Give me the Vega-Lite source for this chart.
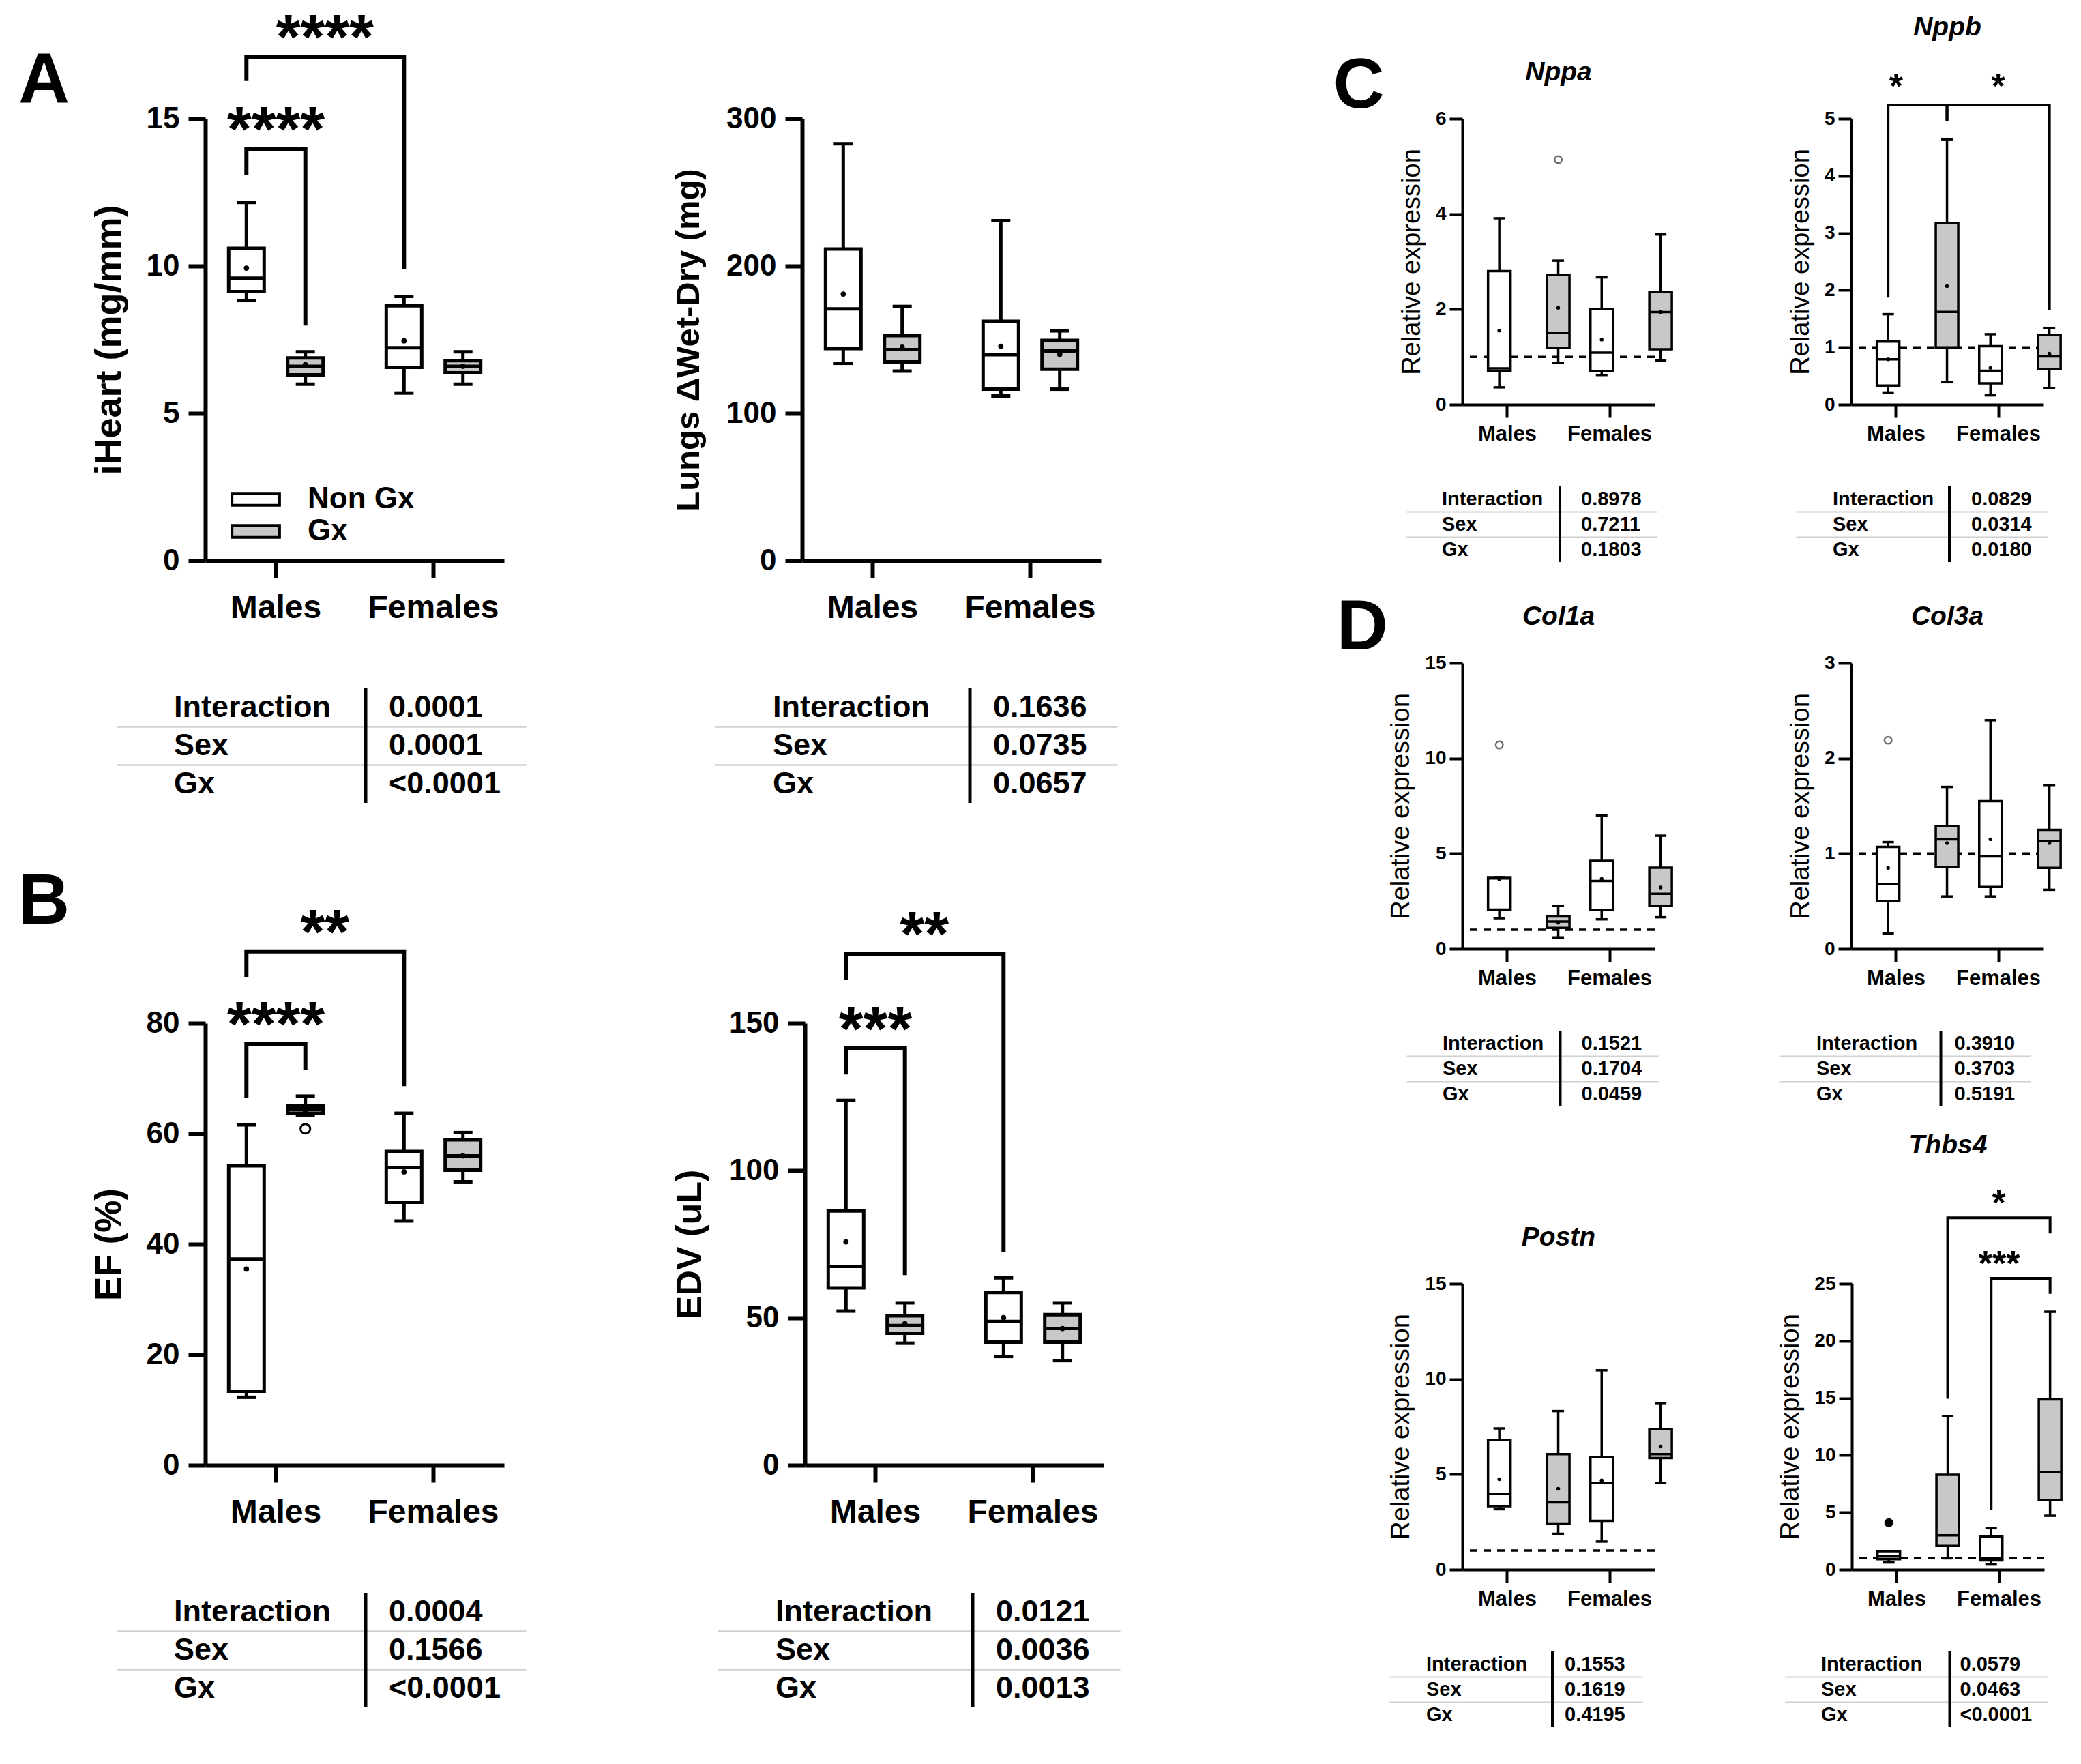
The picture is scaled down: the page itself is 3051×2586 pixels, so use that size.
{
"$schema": "https://vega.github.io/schema/vega-lite/v6.json",
"background": "white",
"autosize": {"type": "pad"},
"padding": {"left": 27, "top": 12, "right": 10, "bottom": 10},
"config": {
  "font": "Liberation Sans",
  "view": {"stroke": null},
  "axis": {"domainColor": "black", "tickColor": "black", "labelColor": "black", "titleColor": "black", "grid": false, "labelLimit": 0},
  "title": {"color": "black"}
},
"datasets": {
"boxes": [
{"panel":"iHeart","sex":"Males","group":"Non Gx","min":8.83,"q1":9.13,"median":9.59,"q3":10.6,"max":12.16,"mean":9.93},
{"panel":"iHeart","sex":"Males","group":"Gx","min":5.99,"q1":6.31,"median":6.6,"q3":6.88,"max":7.09,"mean":6.65},
{"panel":"iHeart","sex":"Females","group":"Non Gx","min":5.69,"q1":6.56,"median":7.23,"q3":8.65,"max":8.97,"mean":7.46},
{"panel":"iHeart","sex":"Females","group":"Gx","min":5.99,"q1":6.38,"median":6.6,"q3":6.79,"max":7.09,"mean":6.6},
{"panel":"Lungs","sex":"Males","group":"Non Gx","min":134,"q1":144,"median":171,"q3":211.6,"max":283,"mean":181},
{"panel":"Lungs","sex":"Males","group":"Gx","min":128.7,"q1":134.9,"median":143.3,"q3":152.8,"max":172.6,"mean":145},
{"panel":"Lungs","sex":"Females","group":"Non Gx","min":111.8,"q1":116.4,"median":139.8,"q3":162.5,"max":230.8,"mean":145.6},
{"panel":"Lungs","sex":"Females","group":"Gx","min":116.4,"q1":130,"median":142.4,"q3":149.5,"max":156,"mean":140},
{"panel":"EF","sex":"Males","group":"Non Gx","min":12.3,"q1":13.4,"median":37.3,"q3":54.2,"max":61.6,"mean":35.5},
{"panel":"EF","sex":"Males","group":"Gx","min":63.4,"q1":63.7,"median":64.4,"q3":65,"max":66.8,"mean":64.1},
{"panel":"EF","sex":"Females","group":"Non Gx","min":44.2,"q1":47.6,"median":53.9,"q3":56.8,"max":63.7,"mean":53.1},
{"panel":"EF","sex":"Females","group":"Gx","min":51.3,"q1":53.4,"median":56,"q3":58.9,"max":60.2,"mean":56},
{"panel":"EDV","sex":"Males","group":"Non Gx","min":52.3,"q1":60.2,"median":67.5,"q3":86.3,"max":123.8,"mean":75.8},
{"panel":"EDV","sex":"Males","group":"Gx","min":41.4,"q1":44.8,"median":47.4,"q3":50.7,"max":55.1,"mean":48},
{"panel":"EDV","sex":"Females","group":"Non Gx","min":36.9,"q1":41.8,"median":48.8,"q3":58.6,"max":63.6,"mean":50.1},
{"panel":"EDV","sex":"Females","group":"Gx","min":35.5,"q1":41.8,"median":46.4,"q3":51.1,"max":55.1,"mean":46.4},
{"panel":"Nppa","sex":"Males","group":"Non Gx","min":0.36,"q1":0.7,"median":0.76,"q3":2.8,"max":3.91,"mean":1.55},
{"panel":"Nppa","sex":"Males","group":"Gx","min":0.87,"q1":1.19,"median":1.5,"q3":2.72,"max":3.02,"mean":2.03},
{"panel":"Nppa","sex":"Females","group":"Non Gx","min":0.62,"q1":0.7,"median":1.09,"q3":2.01,"max":2.67,"mean":1.36},
{"panel":"Nppa","sex":"Females","group":"Gx","min":0.92,"q1":1.16,"median":1.94,"q3":2.36,"max":3.57,"mean":1.94},
{"panel":"Nppb","sex":"Males","group":"Non Gx","min":0.21,"q1":0.33,"median":0.79,"q3":1.1,"max":1.58,"mean":0.79},
{"panel":"Nppb","sex":"Males","group":"Gx","min":0.39,"q1":1.0,"median":1.62,"q3":3.17,"max":4.64,"mean":2.07},
{"panel":"Nppb","sex":"Females","group":"Non Gx","min":0.16,"q1":0.37,"median":0.59,"q3":1.02,"max":1.23,"mean":0.64},
{"panel":"Nppb","sex":"Females","group":"Gx","min":0.29,"q1":0.62,"median":0.84,"q3":1.22,"max":1.34,"mean":0.89},
{"panel":"Col1a","sex":"Males","group":"Non Gx","min":1.61,"q1":2.06,"median":3.7,"q3":3.76,"max":3.76,"mean":3.65},
{"panel":"Col1a","sex":"Males","group":"Gx","min":0.6,"q1":1.1,"median":1.43,"q3":1.7,"max":2.25,"mean":1.37},
{"panel":"Col1a","sex":"Females","group":"Non Gx","min":1.55,"q1":2.03,"median":3.56,"q3":4.62,"max":7.0,"mean":3.67},
{"panel":"Col1a","sex":"Females","group":"Gx","min":1.66,"q1":2.25,"median":2.89,"q3":4.26,"max":5.94,"mean":3.22},
{"panel":"Col3a","sex":"Males","group":"Non Gx","min":0.16,"q1":0.5,"median":0.68,"q3":1.07,"max":1.12,"mean":0.85},
{"panel":"Col3a","sex":"Males","group":"Gx","min":0.55,"q1":0.86,"median":1.15,"q3":1.29,"max":1.7,"mean":1.11},
{"panel":"Col3a","sex":"Females","group":"Non Gx","min":0.55,"q1":0.65,"median":0.97,"q3":1.55,"max":2.4,"mean":1.15},
{"panel":"Col3a","sex":"Females","group":"Gx","min":0.62,"q1":0.85,"median":1.13,"q3":1.25,"max":1.72,"mean":1.11},
{"panel":"Postn","sex":"Males","group":"Non Gx","min":3.17,"q1":3.33,"median":3.98,"q3":6.8,"max":7.41,"mean":4.74},
{"panel":"Postn","sex":"Males","group":"Gx","min":1.88,"q1":2.42,"median":3.53,"q3":6.06,"max":8.32,"mean":4.24},
{"panel":"Postn","sex":"Females","group":"Non Gx","min":1.47,"q1":2.56,"median":4.54,"q3":5.9,"max":10.46,"mean":4.68},
{"panel":"Postn","sex":"Females","group":"Gx","min":4.54,"q1":5.85,"median":6.06,"q3":7.37,"max":8.74,"mean":6.46},
{"panel":"Thbs4","sex":"Males","group":"Non Gx","min":0.62,"q1":0.91,"median":1.15,"q3":1.61,"max":1.61,"mean":null},
{"panel":"Thbs4","sex":"Males","group":"Gx","min":0.99,"q1":2.08,"median":3.0,"q3":8.3,"max":13.41,"mean":null},
{"panel":"Thbs4","sex":"Females","group":"Non Gx","min":0.44,"q1":0.8,"median":0.99,"q3":2.89,"max":3.62,"mean":null},
{"panel":"Thbs4","sex":"Females","group":"Gx","min":4.71,"q1":6.1,"median":8.55,"q3":14.88,"max":22.55,"mean":null}
],
"outliers": [
{"panel":"EF","sex":"Males","group":"Gx","value":60.9,"kind":"open"},
{"panel":"Nppa","sex":"Males","group":"Gx","value":5.14,"kind":"open"},
{"panel":"Col1a","sex":"Males","group":"Non Gx","value":10.7,"kind":"open"},
{"panel":"Col3a","sex":"Males","group":"Non Gx","value":2.19,"kind":"open"},
{"panel":"Thbs4","sex":"Males","group":"Non Gx","value":4.1,"kind":"filled"}
],
"brackets": [
{"panel":"iHeart","id":"b1","ord":1,"sex":"Males","group":"Non Gx","y":13.09},
{"panel":"iHeart","id":"b1","ord":2,"sex":"Males","group":"Non Gx","y":13.97},
{"panel":"iHeart","id":"b1","ord":3,"sex":"Males","group":"Gx","y":13.97},
{"panel":"iHeart","id":"b1","ord":4,"sex":"Males","group":"Gx","y":7.98},
{"panel":"iHeart","id":"b2","ord":1,"sex":"Males","group":"Non Gx","y":16.28},
{"panel":"iHeart","id":"b2","ord":2,"sex":"Males","group":"Non Gx","y":17.1},
{"panel":"iHeart","id":"b2","ord":3,"sex":"Females","group":"Non Gx","y":17.1},
{"panel":"iHeart","id":"b2","ord":4,"sex":"Females","group":"Non Gx","y":9.89},
{"panel":"EF","id":"b1","ord":1,"sex":"Males","group":"Non Gx","y":66.5},
{"panel":"EF","id":"b1","ord":2,"sex":"Males","group":"Non Gx","y":76.3},
{"panel":"EF","id":"b1","ord":3,"sex":"Males","group":"Gx","y":76.3},
{"panel":"EF","id":"b1","ord":4,"sex":"Males","group":"Gx","y":71.6},
{"panel":"EF","id":"b2","ord":1,"sex":"Males","group":"Non Gx","y":88.4},
{"panel":"EF","id":"b2","ord":2,"sex":"Males","group":"Non Gx","y":93},
{"panel":"EF","id":"b2","ord":3,"sex":"Females","group":"Non Gx","y":93},
{"panel":"EF","id":"b2","ord":4,"sex":"Females","group":"Non Gx","y":68.6},
{"panel":"EDV","id":"b1","ord":1,"sex":"Males","group":"Non Gx","y":132.6},
{"panel":"EDV","id":"b1","ord":2,"sex":"Males","group":"Non Gx","y":141.5},
{"panel":"EDV","id":"b1","ord":3,"sex":"Males","group":"Gx","y":141.5},
{"panel":"EDV","id":"b1","ord":4,"sex":"Males","group":"Gx","y":64.5},
{"panel":"EDV","id":"b2","ord":1,"sex":"Males","group":"Non Gx","y":164.8},
{"panel":"EDV","id":"b2","ord":2,"sex":"Males","group":"Non Gx","y":173.5},
{"panel":"EDV","id":"b2","ord":3,"sex":"Females","group":"Non Gx","y":173.5},
{"panel":"EDV","id":"b2","ord":4,"sex":"Females","group":"Non Gx","y":72.4},
{"panel":"Nppb","id":"b1","ord":1,"sex":"Males","group":"Non Gx","y":1.87},
{"panel":"Nppb","id":"b1","ord":2,"sex":"Males","group":"Non Gx","y":5.24},
{"panel":"Nppb","id":"b1","ord":3,"sex":"Males","group":"Gx","y":5.24},
{"panel":"Nppb","id":"b1","ord":4,"sex":"Males","group":"Gx","y":4.96},
{"panel":"Nppb","id":"b2","ord":1,"sex":"Males","group":"Gx","y":4.96},
{"panel":"Nppb","id":"b2","ord":2,"sex":"Males","group":"Gx","y":5.24},
{"panel":"Nppb","id":"b2","ord":3,"sex":"Females","group":"Gx","y":5.24},
{"panel":"Nppb","id":"b2","ord":4,"sex":"Females","group":"Gx","y":1.65},
{"panel":"Thbs4","id":"b1","ord":1,"sex":"Males","group":"Gx","y":14.95},
{"panel":"Thbs4","id":"b1","ord":2,"sex":"Males","group":"Gx","y":30.77},
{"panel":"Thbs4","id":"b1","ord":3,"sex":"Females","group":"Gx","y":30.77},
{"panel":"Thbs4","id":"b1","ord":4,"sex":"Females","group":"Gx","y":29.4},
{"panel":"Thbs4","id":"b2","ord":1,"sex":"Females","group":"Non Gx","y":5.19},
{"panel":"Thbs4","id":"b2","ord":2,"sex":"Females","group":"Non Gx","y":25.47},
{"panel":"Thbs4","id":"b2","ord":3,"sex":"Females","group":"Gx","y":25.47},
{"panel":"Thbs4","id":"b2","ord":4,"sex":"Females","group":"Gx","y":24.12}
],
"stars": [
{"panel":"iHeart","label":"****","sex":"Males","group":null,"y":13.97,"span":"within"},
{"panel":"iHeart","label":"****","sex":"Males","group":"Non Gx","y":17.1,"span":"across"},
{"panel":"EF","label":"****","sex":"Males","group":null,"y":76.3,"span":"within"},
{"panel":"EF","label":"**","sex":"Males","group":"Non Gx","y":93,"span":"across"},
{"panel":"EDV","label":"***","sex":"Males","group":null,"y":141.5,"span":"within"},
{"panel":"EDV","label":"**","sex":"Males","group":"Non Gx","y":173.5,"span":"across"},
{"panel":"Nppb","label":"*","sex":"Males","group":null,"y":5.24,"span":"within"},
{"panel":"Nppb","label":"*","sex":"Males","group":"Gx","y":5.24,"span":"across"},
{"panel":"Thbs4","label":"*","sex":"Males","group":"Gx","y":30.77,"span":"across"},
{"panel":"Thbs4","label":"***","sex":"Females","group":null,"y":25.47,"span":"within"}
],
"tables": [
{"panel":"iHeart","term":"Interaction","p":"0.0001"},{"panel":"iHeart","term":"Sex","p":"0.0001"},{"panel":"iHeart","term":"Gx","p":"<0.0001"},
{"panel":"Lungs","term":"Interaction","p":"0.1636"},{"panel":"Lungs","term":"Sex","p":"0.0735"},{"panel":"Lungs","term":"Gx","p":"0.0657"},
{"panel":"EF","term":"Interaction","p":"0.0004"},{"panel":"EF","term":"Sex","p":"0.1566"},{"panel":"EF","term":"Gx","p":"<0.0001"},
{"panel":"EDV","term":"Interaction","p":"0.0121"},{"panel":"EDV","term":"Sex","p":"0.0036"},{"panel":"EDV","term":"Gx","p":"0.0013"},
{"panel":"Nppa","term":"Interaction","p":"0.8978"},{"panel":"Nppa","term":"Sex","p":"0.7211"},{"panel":"Nppa","term":"Gx","p":"0.1803"},
{"panel":"Nppb","term":"Interaction","p":"0.0829"},{"panel":"Nppb","term":"Sex","p":"0.0314"},{"panel":"Nppb","term":"Gx","p":"0.0180"},
{"panel":"Col1a","term":"Interaction","p":"0.1521"},{"panel":"Col1a","term":"Sex","p":"0.1704"},{"panel":"Col1a","term":"Gx","p":"0.0459"},
{"panel":"Col3a","term":"Interaction","p":"0.3910"},{"panel":"Col3a","term":"Sex","p":"0.3703"},{"panel":"Col3a","term":"Gx","p":"0.5191"},
{"panel":"Postn","term":"Interaction","p":"0.1553"},{"panel":"Postn","term":"Sex","p":"0.1619"},{"panel":"Postn","term":"Gx","p":"0.4195"},
{"panel":"Thbs4","term":"Interaction","p":"0.0579"},{"panel":"Thbs4","term":"Sex","p":"0.0463"},{"panel":"Thbs4","term":"Gx","p":"<0.0001"}
]
},
"spacing": 312,
"hconcat": [
{"spacing": 90, "vconcat": [
 {"spacing": 214, "hconcat": [
  {"title": {"text": "A", "anchor": "start", "frame": "bounds", "orient": "top", "fontSize": 104, "fontWeight": "bold", "baseline": "alphabetic", "offset": 0, "dx": -106, "dy": 242, "color": "black"},
   "bounds": "flush", "spacing": 187, "vconcat": [
   {"width": 438, "height": 648, "layer": [
    {"data": {"name": "boxes"}, "transform": [{"filter": "datum.panel === 'iHeart'"}],
     "encoding": {"x": {"field": "sex", "type": "nominal", "scale": {"type": "band", "domain": ["Males","Females"], "paddingInner": 0.252, "paddingOuter": 0.074}, "axis": {"title": null, "labelAngle": 0, "labelFontSize": 48, "labelFontWeight": "bold", "labelPadding": 20, "tickSize": 25, "tickWidth": 6, "domainWidth": 6, "labelLimit": 0}},
                  "xOffset": {"field": "group", "type": "nominal", "scale": {"type": "band", "domain": ["Non Gx","Gx"], "paddingInner": 0, "paddingOuter": 0}}},
     "layer": [
      {"mark": {"type": "rule", "color": "black", "strokeWidth": 5}, "encoding": {"y": {"field": "min", "type": "quantitative", "scale": {"domain": [0,15], "nice": false, "zero": true}, "axis": {"title": "iHeart (mg/mm)", "values": [0,5,10,15], "format": "d", "labelFontSize": 44, "labelFontWeight": "bold", "labelPadding": 13, "tickSize": 25, "tickWidth": 6, "domainWidth": 6, "titleFontSize": 54, "titleFontWeight": "bold", "titlePadding": 27, "grid": false}}, "y2": {"field": "max"}}},
      {"mark": {"type": "tick", "orient": "horizontal", "color": "black", "thickness": 5, "size": 28, "opacity": 1}, "encoding": {"y": {"field": "min", "type": "quantitative", "scale": {"domain": [0,15], "nice": false, "zero": true}}}},
      {"mark": {"type": "tick", "orient": "horizontal", "color": "black", "thickness": 5, "size": 28, "opacity": 1}, "encoding": {"y": {"field": "max", "type": "quantitative", "scale": {"domain": [0,15], "nice": false, "zero": true}}}},
      {"mark": {"type": "bar", "width": 52, "stroke": "black", "strokeWidth": 5, "opacity": 1}, "encoding": {"y": {"field": "q1", "type": "quantitative", "scale": {"domain": [0,15], "nice": false, "zero": true}}, "y2": {"field": "q3"}, "fill": {"field": "group", "type": "nominal", "scale": {"domain": ["Non Gx","Gx"], "range": ["#ffffff","#c8c8c8"]}, "legend": {"orient": "none", "legendX": 50, "legendY": 534, "title": null, "symbolType": "M-1.6,-0.4H1.6V0.4H-1.6Z", "symbolSize": 1900, "symbolStrokeColor": "black", "symbolStrokeWidth": 4, "symbolOpacity": 1, "labelFontSize": 44, "labelFontWeight": "bold", "labelColor": "black", "labelOffset": 52, "rowPadding": 1, "padding": 0, "direction": "vertical"}}}},
      {"mark": {"type": "tick", "orient": "horizontal", "color": "black", "thickness": 5, "size": 52, "opacity": 1}, "encoding": {"y": {"field": "median", "type": "quantitative", "scale": {"domain": [0,15], "nice": false, "zero": true}}}},
      {"mark": {"type": "point", "shape": "circle", "filled": true, "color": "black", "size": 60, "opacity": 1}, "encoding": {"y": {"field": "mean", "type": "quantitative", "scale": {"domain": [0,15], "nice": false, "zero": true}}}}
     ]},
    {"data": {"name": "brackets"}, "transform": [{"filter": "datum.panel === 'iHeart'"}], "mark": {"type": "line", "color": "black", "strokeWidth": 6, "strokeJoin": "miter"},
     "encoding": {"x": {"field": "sex", "type": "nominal", "scale": {"type": "band", "domain": ["Males","Females"], "paddingInner": 0.252, "paddingOuter": 0.074}}, "xOffset": {"field": "group", "type": "nominal", "scale": {"type": "band", "domain": ["Non Gx","Gx"], "paddingInner": 0, "paddingOuter": 0}}, "y": {"field": "y", "type": "quantitative", "scale": {"domain": [0,15], "nice": false, "zero": true}}, "detail": {"field": "id", "type": "nominal"}, "order": {"field": "ord", "type": "quantitative"}}},
    {"data": {"name": "stars"}, "transform": [{"filter": "datum.panel === 'iHeart' && datum.span === 'within'"}], "mark": {"type": "text", "fontSize": 92, "fontWeight": "bold", "baseline": "alphabetic", "align": "center", "dy": 3, "color": "black"},
     "encoding": {"x": {"field": "sex", "type": "nominal", "scale": {"type": "band", "domain": ["Males","Females"], "paddingInner": 0.252, "paddingOuter": 0.074}}, "y": {"field": "y", "type": "quantitative", "scale": {"domain": [0,15], "nice": false, "zero": true}}, "text": {"field": "label"}}},
    {"data": {"name": "stars"}, "transform": [{"filter": "datum.panel === 'iHeart' && datum.span === 'across'"}], "mark": {"type": "text", "fontSize": 92, "fontWeight": "bold", "baseline": "alphabetic", "align": "center", "dy": 3, "dx": 115, "color": "black"},
     "encoding": {"x": {"field": "sex", "type": "nominal", "scale": {"type": "band", "domain": ["Males","Females"], "paddingInner": 0.252, "paddingOuter": 0.074}}, "xOffset": {"field": "group", "type": "nominal", "scale": {"type": "band", "domain": ["Non Gx","Gx"], "paddingInner": 0, "paddingOuter": 0}}, "y": {"field": "y", "type": "quantitative", "scale": {"domain": [0,15], "nice": false, "zero": true}}, "text": {"field": "label"}}}
   ]},
   {"width": 470, "height": 168, "data": {"name": "tables"}, "transform": [{"filter": "datum.panel === 'iHeart'"}], "layer": [
    {"mark": {"type": "text", "align": "left", "baseline": "middle", "fontSize": 45, "fontWeight": "bold", "dx": -46, "color": "black"},
     "encoding": {"x": {"datum": "term", "type": "nominal", "bandPosition": 0, "scale": {"type": "band", "domain": ["term","p"], "paddingInner": 0, "paddingOuter": 0}, "axis": null},
      "y": {"field": "term", "type": "nominal", "scale": {"type": "band", "domain": ["Interaction","Sex","Gx"], "paddingInner": 0, "paddingOuter": 0}, "axis": {"orient": "left", "domain": false, "labels": false, "ticks": true, "tickSize": 130, "tickWidth": 2.5, "tickColor": "#d0d0d0", "grid": true, "gridColor": "#d0d0d0", "gridWidth": 2.5, "values": ["Sex","Gx"], "bandPosition": 0, "title": null}},
      "text": {"field": "term"}}},
    {"mark": {"type": "text", "align": "left", "baseline": "middle", "fontSize": 45, "fontWeight": "bold", "dx": 34, "color": "black"},
     "encoding": {"x": {"datum": "p", "type": "nominal", "bandPosition": 0, "scale": {"type": "band", "domain": ["term","p"], "paddingInner": 0, "paddingOuter": 0}, "axis": null},
      "y": {"field": "term", "type": "nominal", "scale": {"type": "band", "domain": ["Interaction","Sex","Gx"], "paddingInner": 0, "paddingOuter": 0}, "axis": {"orient": "left", "domain": false, "labels": false, "ticks": true, "tickSize": 130, "tickWidth": 2.5, "tickColor": "#d0d0d0", "grid": true, "gridColor": "#d0d0d0", "gridWidth": 2.5, "values": ["Sex","Gx"], "bandPosition": 0, "title": null}},
      "text": {"field": "p"}}},
    {"data": {"values": [{}]}, "mark": {"type": "rule", "color": "black", "strokeWidth": 5},
     "encoding": {"x": {"datum": "p", "type": "nominal", "bandPosition": 0, "scale": {"type": "band", "domain": ["term","p"], "paddingInner": 0, "paddingOuter": 0}, "axis": null}}}
   ]}
  ]},
  {"bounds": "flush", "spacing": 187, "vconcat": [
   {"width": 438, "height": 648, "layer": [
    {"data": {"name": "boxes"}, "transform": [{"filter": "datum.panel === 'Lungs'"}],
     "encoding": {"x": {"field": "sex", "type": "nominal", "scale": {"type": "band", "domain": ["Males","Females"], "paddingInner": 0.252, "paddingOuter": 0.074}, "axis": {"title": null, "labelAngle": 0, "labelFontSize": 48, "labelFontWeight": "bold", "labelPadding": 20, "tickSize": 25, "tickWidth": 6, "domainWidth": 6, "labelLimit": 0}},
                  "xOffset": {"field": "group", "type": "nominal", "scale": {"type": "band", "domain": ["Non Gx","Gx"], "paddingInner": 0, "paddingOuter": 0}}},
     "layer": [
      {"mark": {"type": "rule", "color": "black", "strokeWidth": 5}, "encoding": {"y": {"field": "min", "type": "quantitative", "scale": {"domain": [0,300], "nice": false, "zero": true}, "axis": {"title": "Lungs ΔWet-Dry (mg)", "values": [0,100,200,300], "format": "d", "labelFontSize": 44, "labelFontWeight": "bold", "labelPadding": 13, "tickSize": 25, "tickWidth": 6, "domainWidth": 6, "titleFontSize": 49, "titleFontWeight": "bold", "titlePadding": 30, "grid": false}}, "y2": {"field": "max"}}},
      {"mark": {"type": "tick", "orient": "horizontal", "color": "black", "thickness": 5, "size": 28, "opacity": 1}, "encoding": {"y": {"field": "min", "type": "quantitative", "scale": {"domain": [0,300], "nice": false, "zero": true}}}},
      {"mark": {"type": "tick", "orient": "horizontal", "color": "black", "thickness": 5, "size": 28, "opacity": 1}, "encoding": {"y": {"field": "max", "type": "quantitative", "scale": {"domain": [0,300], "nice": false, "zero": true}}}},
      {"mark": {"type": "bar", "width": 52, "stroke": "black", "strokeWidth": 5, "opacity": 1}, "encoding": {"y": {"field": "q1", "type": "quantitative", "scale": {"domain": [0,300], "nice": false, "zero": true}}, "y2": {"field": "q3"}, "fill": {"field": "group", "type": "nominal", "scale": {"domain": ["Non Gx","Gx"], "range": ["#ffffff","#a6a6a6"]}, "legend": null}}},
      {"mark": {"type": "tick", "orient": "horizontal", "color": "black", "thickness": 5, "size": 52, "opacity": 1}, "encoding": {"y": {"field": "median", "type": "quantitative", "scale": {"domain": [0,300], "nice": false, "zero": true}}}},
      {"mark": {"type": "point", "shape": "circle", "filled": true, "color": "black", "size": 60, "opacity": 1}, "encoding": {"y": {"field": "mean", "type": "quantitative", "scale": {"domain": [0,300], "nice": false, "zero": true}}}}
     ]}
   ]},
   {"width": 462, "height": 168, "data": {"name": "tables"}, "transform": [{"filter": "datum.panel === 'Lungs'"}], "layer": [
    {"mark": {"type": "text", "align": "left", "baseline": "middle", "fontSize": 45, "fontWeight": "bold", "dx": -79, "color": "black"},
     "encoding": {"x": {"datum": "term", "type": "nominal", "bandPosition": 0, "scale": {"type": "band", "domain": ["term","p"], "paddingInner": 0, "paddingOuter": 0.1, "align": 0.857}, "axis": null},
      "y": {"field": "term", "type": "nominal", "scale": {"type": "band", "domain": ["Interaction","Sex","Gx"], "paddingInner": 0, "paddingOuter": 0}, "axis": {"orient": "left", "domain": false, "labels": false, "ticks": true, "tickSize": 128, "tickWidth": 2.5, "tickColor": "#d0d0d0", "grid": true, "gridColor": "#d0d0d0", "gridWidth": 2.5, "values": ["Sex","Gx"], "bandPosition": 0, "title": null}},
      "text": {"field": "term"}}},
    {"mark": {"type": "text", "align": "left", "baseline": "middle", "fontSize": 45, "fontWeight": "bold", "dx": 34, "color": "black"},
     "encoding": {"x": {"datum": "p", "type": "nominal", "bandPosition": 0, "scale": {"type": "band", "domain": ["term","p"], "paddingInner": 0, "paddingOuter": 0.1, "align": 0.857}, "axis": null},
      "y": {"field": "term", "type": "nominal", "scale": {"type": "band", "domain": ["Interaction","Sex","Gx"], "paddingInner": 0, "paddingOuter": 0}, "axis": {"orient": "left", "domain": false, "labels": false, "ticks": true, "tickSize": 128, "tickWidth": 2.5, "tickColor": "#d0d0d0", "grid": true, "gridColor": "#d0d0d0", "gridWidth": 2.5, "values": ["Sex","Gx"], "bandPosition": 0, "title": null}},
      "text": {"field": "p"}}},
    {"data": {"values": [{}]}, "mark": {"type": "rule", "color": "black", "strokeWidth": 5},
     "encoding": {"x": {"datum": "p", "type": "nominal", "bandPosition": 0, "scale": {"type": "band", "domain": ["term","p"], "paddingInner": 0, "paddingOuter": 0.1, "align": 0.857}, "axis": null}}}
   ]}
  ]}
 ]},
 {"spacing": 214, "hconcat": [
  {"title": {"text": "B", "anchor": "start", "frame": "bounds", "orient": "top", "fontSize": 104, "fontWeight": "bold", "baseline": "alphabetic", "offset": 0, "dx": -107, "dy": 134, "color": "black"},
   "bounds": "flush", "spacing": 187, "vconcat": [
   {"width": 438, "height": 648, "layer": [
    {"data": {"name": "boxes"}, "transform": [{"filter": "datum.panel === 'EF'"}],
     "encoding": {"x": {"field": "sex", "type": "nominal", "scale": {"type": "band", "domain": ["Males","Females"], "paddingInner": 0.252, "paddingOuter": 0.074}, "axis": {"title": null, "labelAngle": 0, "labelFontSize": 48, "labelFontWeight": "bold", "labelPadding": 20, "tickSize": 25, "tickWidth": 6, "domainWidth": 6, "labelLimit": 0}},
                  "xOffset": {"field": "group", "type": "nominal", "scale": {"type": "band", "domain": ["Non Gx","Gx"], "paddingInner": 0, "paddingOuter": 0}}},
     "layer": [
      {"mark": {"type": "rule", "color": "black", "strokeWidth": 5}, "encoding": {"y": {"field": "min", "type": "quantitative", "scale": {"domain": [0,80], "nice": false, "zero": true}, "axis": {"title": "EF (%)", "values": [0,20,40,60,80], "format": "d", "labelFontSize": 44, "labelFontWeight": "bold", "labelPadding": 13, "tickSize": 25, "tickWidth": 6, "domainWidth": 6, "titleFontSize": 53, "titleFontWeight": "bold", "titlePadding": 27, "grid": false}}, "y2": {"field": "max"}}},
      {"mark": {"type": "tick", "orient": "horizontal", "color": "black", "thickness": 5, "size": 28, "opacity": 1}, "encoding": {"y": {"field": "min", "type": "quantitative", "scale": {"domain": [0,80], "nice": false, "zero": true}}}},
      {"mark": {"type": "tick", "orient": "horizontal", "color": "black", "thickness": 5, "size": 28, "opacity": 1}, "encoding": {"y": {"field": "max", "type": "quantitative", "scale": {"domain": [0,80], "nice": false, "zero": true}}}},
      {"mark": {"type": "bar", "width": 52, "stroke": "black", "strokeWidth": 5, "opacity": 1}, "encoding": {"y": {"field": "q1", "type": "quantitative", "scale": {"domain": [0,80], "nice": false, "zero": true}}, "y2": {"field": "q3"}, "fill": {"field": "group", "type": "nominal", "scale": {"domain": ["Non Gx","Gx"], "range": ["#ffffff","#d6d6d6"]}, "legend": null}}},
      {"mark": {"type": "tick", "orient": "horizontal", "color": "black", "thickness": 5, "size": 52, "opacity": 1}, "encoding": {"y": {"field": "median", "type": "quantitative", "scale": {"domain": [0,80], "nice": false, "zero": true}}}},
      {"mark": {"type": "point", "shape": "circle", "filled": true, "color": "black", "size": 60, "opacity": 1}, "encoding": {"y": {"field": "mean", "type": "quantitative", "scale": {"domain": [0,80], "nice": false, "zero": true}}}}
     ]},
    {"data": {"name": "outliers"}, "transform": [{"filter": "datum.panel === 'EF'"}], "mark": {"type": "point", "shape": "circle", "filled": false, "stroke": "black", "strokeWidth": 3, "size": 200, "opacity": 1},
     "encoding": {"x": {"field": "sex", "type": "nominal", "scale": {"type": "band", "domain": ["Males","Females"], "paddingInner": 0.252, "paddingOuter": 0.074}}, "xOffset": {"field": "group", "type": "nominal", "scale": {"type": "band", "domain": ["Non Gx","Gx"], "paddingInner": 0, "paddingOuter": 0}}, "y": {"field": "value", "type": "quantitative", "scale": {"domain": [0,80], "nice": false, "zero": true}}}},
    {"data": {"name": "brackets"}, "transform": [{"filter": "datum.panel === 'EF'"}], "mark": {"type": "line", "color": "black", "strokeWidth": 6, "strokeJoin": "miter"},
     "encoding": {"x": {"field": "sex", "type": "nominal", "scale": {"type": "band", "domain": ["Males","Females"], "paddingInner": 0.252, "paddingOuter": 0.074}}, "xOffset": {"field": "group", "type": "nominal", "scale": {"type": "band", "domain": ["Non Gx","Gx"], "paddingInner": 0, "paddingOuter": 0}}, "y": {"field": "y", "type": "quantitative", "scale": {"domain": [0,80], "nice": false, "zero": true}}, "detail": {"field": "id", "type": "nominal"}, "order": {"field": "ord", "type": "quantitative"}}},
    {"data": {"name": "stars"}, "transform": [{"filter": "datum.panel === 'EF' && datum.span === 'within'"}], "mark": {"type": "text", "fontSize": 92, "fontWeight": "bold", "baseline": "alphabetic", "align": "center", "dy": 3, "color": "black"},
     "encoding": {"x": {"field": "sex", "type": "nominal", "scale": {"type": "band", "domain": ["Males","Females"], "paddingInner": 0.252, "paddingOuter": 0.074}}, "y": {"field": "y", "type": "quantitative", "scale": {"domain": [0,80], "nice": false, "zero": true}}, "text": {"field": "label"}}},
    {"data": {"name": "stars"}, "transform": [{"filter": "datum.panel === 'EF' && datum.span === 'across'"}], "mark": {"type": "text", "fontSize": 92, "fontWeight": "bold", "baseline": "alphabetic", "align": "center", "dy": 3, "dx": 115, "color": "black"},
     "encoding": {"x": {"field": "sex", "type": "nominal", "scale": {"type": "band", "domain": ["Males","Females"], "paddingInner": 0.252, "paddingOuter": 0.074}}, "xOffset": {"field": "group", "type": "nominal", "scale": {"type": "band", "domain": ["Non Gx","Gx"], "paddingInner": 0, "paddingOuter": 0}}, "y": {"field": "y", "type": "quantitative", "scale": {"domain": [0,80], "nice": false, "zero": true}}, "text": {"field": "label"}}}
   ]},
   {"width": 470, "height": 168, "data": {"name": "tables"}, "transform": [{"filter": "datum.panel === 'EF'"}], "layer": [
    {"mark": {"type": "text", "align": "left", "baseline": "middle", "fontSize": 45, "fontWeight": "bold", "dx": -46, "color": "black"},
     "encoding": {"x": {"datum": "term", "type": "nominal", "bandPosition": 0, "scale": {"type": "band", "domain": ["term","p"], "paddingInner": 0, "paddingOuter": 0}, "axis": null},
      "y": {"field": "term", "type": "nominal", "scale": {"type": "band", "domain": ["Interaction","Sex","Gx"], "paddingInner": 0, "paddingOuter": 0}, "axis": {"orient": "left", "domain": false, "labels": false, "ticks": true, "tickSize": 130, "tickWidth": 2.5, "tickColor": "#d0d0d0", "grid": true, "gridColor": "#d0d0d0", "gridWidth": 2.5, "values": ["Sex","Gx"], "bandPosition": 0, "title": null}},
      "text": {"field": "term"}}},
    {"mark": {"type": "text", "align": "left", "baseline": "middle", "fontSize": 45, "fontWeight": "bold", "dx": 34, "color": "black"},
     "encoding": {"x": {"datum": "p", "type": "nominal", "bandPosition": 0, "scale": {"type": "band", "domain": ["term","p"], "paddingInner": 0, "paddingOuter": 0}, "axis": null},
      "y": {"field": "term", "type": "nominal", "scale": {"type": "band", "domain": ["Interaction","Sex","Gx"], "paddingInner": 0, "paddingOuter": 0}, "axis": {"orient": "left", "domain": false, "labels": false, "ticks": true, "tickSize": 130, "tickWidth": 2.5, "tickColor": "#d0d0d0", "grid": true, "gridColor": "#d0d0d0", "gridWidth": 2.5, "values": ["Sex","Gx"], "bandPosition": 0, "title": null}},
      "text": {"field": "p"}}},
    {"data": {"values": [{}]}, "mark": {"type": "rule", "color": "black", "strokeWidth": 5},
     "encoding": {"x": {"datum": "p", "type": "nominal", "bandPosition": 0, "scale": {"type": "band", "domain": ["term","p"], "paddingInner": 0, "paddingOuter": 0}, "axis": null}}}
   ]}
  ]},
  {"bounds": "flush", "spacing": 187, "vconcat": [
   {"width": 438, "height": 648, "layer": [
    {"data": {"name": "boxes"}, "transform": [{"filter": "datum.panel === 'EDV'"}],
     "encoding": {"x": {"field": "sex", "type": "nominal", "scale": {"type": "band", "domain": ["Males","Females"], "paddingInner": 0.252, "paddingOuter": 0.074}, "axis": {"title": null, "labelAngle": 0, "labelFontSize": 48, "labelFontWeight": "bold", "labelPadding": 20, "tickSize": 25, "tickWidth": 6, "domainWidth": 6, "labelLimit": 0}},
                  "xOffset": {"field": "group", "type": "nominal", "scale": {"type": "band", "domain": ["Non Gx","Gx"], "paddingInner": 0, "paddingOuter": 0}}},
     "layer": [
      {"mark": {"type": "rule", "color": "black", "strokeWidth": 5}, "encoding": {"y": {"field": "min", "type": "quantitative", "scale": {"domain": [0,150], "nice": false, "zero": true}, "axis": {"title": "EDV (uL)", "values": [0,50,100,150], "format": "d", "labelFontSize": 44, "labelFontWeight": "bold", "labelPadding": 13, "tickSize": 25, "tickWidth": 6, "domainWidth": 6, "titleFontSize": 52, "titleFontWeight": "bold", "titlePadding": 30, "grid": false}}, "y2": {"field": "max"}}},
      {"mark": {"type": "tick", "orient": "horizontal", "color": "black", "thickness": 5, "size": 28, "opacity": 1}, "encoding": {"y": {"field": "min", "type": "quantitative", "scale": {"domain": [0,150], "nice": false, "zero": true}}}},
      {"mark": {"type": "tick", "orient": "horizontal", "color": "black", "thickness": 5, "size": 28, "opacity": 1}, "encoding": {"y": {"field": "max", "type": "quantitative", "scale": {"domain": [0,150], "nice": false, "zero": true}}}},
      {"mark": {"type": "bar", "width": 52, "stroke": "black", "strokeWidth": 5, "opacity": 1}, "encoding": {"y": {"field": "q1", "type": "quantitative", "scale": {"domain": [0,150], "nice": false, "zero": true}}, "y2": {"field": "q3"}, "fill": {"field": "group", "type": "nominal", "scale": {"domain": ["Non Gx","Gx"], "range": ["#ffffff","#d9d9d9"]}, "legend": null}}},
      {"mark": {"type": "tick", "orient": "horizontal", "color": "black", "thickness": 5, "size": 52, "opacity": 1}, "encoding": {"y": {"field": "median", "type": "quantitative", "scale": {"domain": [0,150], "nice": false, "zero": true}}}},
      {"mark": {"type": "point", "shape": "circle", "filled": true, "color": "black", "size": 60, "opacity": 1}, "encoding": {"y": {"field": "mean", "type": "quantitative", "scale": {"domain": [0,150], "nice": false, "zero": true}}}}
     ]},
    {"data": {"name": "brackets"}, "transform": [{"filter": "datum.panel === 'EDV'"}], "mark": {"type": "line", "color": "black", "strokeWidth": 6, "strokeJoin": "miter"},
     "encoding": {"x": {"field": "sex", "type": "nominal", "scale": {"type": "band", "domain": ["Males","Females"], "paddingInner": 0.252, "paddingOuter": 0.074}}, "xOffset": {"field": "group", "type": "nominal", "scale": {"type": "band", "domain": ["Non Gx","Gx"], "paddingInner": 0, "paddingOuter": 0}}, "y": {"field": "y", "type": "quantitative", "scale": {"domain": [0,150], "nice": false, "zero": true}}, "detail": {"field": "id", "type": "nominal"}, "order": {"field": "ord", "type": "quantitative"}}},
    {"data": {"name": "stars"}, "transform": [{"filter": "datum.panel === 'EDV' && datum.span === 'within'"}], "mark": {"type": "text", "fontSize": 92, "fontWeight": "bold", "baseline": "alphabetic", "align": "center", "dy": 3, "color": "black"},
     "encoding": {"x": {"field": "sex", "type": "nominal", "scale": {"type": "band", "domain": ["Males","Females"], "paddingInner": 0.252, "paddingOuter": 0.074}}, "y": {"field": "y", "type": "quantitative", "scale": {"domain": [0,150], "nice": false, "zero": true}}, "text": {"field": "label"}}},
    {"data": {"name": "stars"}, "transform": [{"filter": "datum.panel === 'EDV' && datum.span === 'across'"}], "mark": {"type": "text", "fontSize": 92, "fontWeight": "bold", "baseline": "alphabetic", "align": "center", "dy": 3, "dx": 115, "color": "black"},
     "encoding": {"x": {"field": "sex", "type": "nominal", "scale": {"type": "band", "domain": ["Males","Females"], "paddingInner": 0.252, "paddingOuter": 0.074}}, "xOffset": {"field": "group", "type": "nominal", "scale": {"type": "band", "domain": ["Non Gx","Gx"], "paddingInner": 0, "paddingOuter": 0}}, "y": {"field": "y", "type": "quantitative", "scale": {"domain": [0,150], "nice": false, "zero": true}}, "text": {"field": "label"}}}
   ]},
   {"width": 462, "height": 168, "data": {"name": "tables"}, "transform": [{"filter": "datum.panel === 'EDV'"}], "layer": [
    {"mark": {"type": "text", "align": "left", "baseline": "middle", "fontSize": 45, "fontWeight": "bold", "dx": -79, "color": "black"},
     "encoding": {"x": {"datum": "term", "type": "nominal", "bandPosition": 0, "scale": {"type": "band", "domain": ["term","p"], "paddingInner": 0, "paddingOuter": 0.1, "align": 0.857}, "axis": null},
      "y": {"field": "term", "type": "nominal", "scale": {"type": "band", "domain": ["Interaction","Sex","Gx"], "paddingInner": 0, "paddingOuter": 0}, "axis": {"orient": "left", "domain": false, "labels": false, "ticks": true, "tickSize": 128, "tickWidth": 2.5, "tickColor": "#d0d0d0", "grid": true, "gridColor": "#d0d0d0", "gridWidth": 2.5, "values": ["Sex","Gx"], "bandPosition": 0, "title": null}},
      "text": {"field": "term"}}},
    {"mark": {"type": "text", "align": "left", "baseline": "middle", "fontSize": 45, "fontWeight": "bold", "dx": 34, "color": "black"},
     "encoding": {"x": {"datum": "p", "type": "nominal", "bandPosition": 0, "scale": {"type": "band", "domain": ["term","p"], "paddingInner": 0, "paddingOuter": 0.1, "align": 0.857}, "axis": null},
      "y": {"field": "term", "type": "nominal", "scale": {"type": "band", "domain": ["Interaction","Sex","Gx"], "paddingInner": 0, "paddingOuter": 0}, "axis": {"orient": "left", "domain": false, "labels": false, "ticks": true, "tickSize": 128, "tickWidth": 2.5, "tickColor": "#d0d0d0", "grid": true, "gridColor": "#d0d0d0", "gridWidth": 2.5, "values": ["Sex","Gx"], "bandPosition": 0, "title": null}},
      "text": {"field": "p"}}},
    {"data": {"values": [{}]}, "mark": {"type": "rule", "color": "black", "strokeWidth": 5},
     "encoding": {"x": {"datum": "p", "type": "nominal", "bandPosition": 0, "scale": {"type": "band", "domain": ["term","p"], "paddingInner": 0, "paddingOuter": 0.1, "align": 0.857}, "axis": null}}}
   ]}
  ]}
 ]}
]},
{"spacing": 43, "vconcat": [
 {"spacing": 168, "hconcat": [
  {"title": {"text": "C", "anchor": "start", "frame": "bounds", "orient": "top", "fontSize": 104, "fontWeight": "bold", "baseline": "alphabetic", "offset": 0, "dx": -97, "dy": 175, "color": "black"},
   "bounds": "flush", "spacing": 120, "vconcat": [
   {"width": 282, "height": 419, "title": {"text": "Nppa", "fontSize": 39, "fontWeight": "bold", "fontStyle": "italic", "anchor": "middle", "frame": "group", "offset": 34, "color": "black"}, "layer": [
    {"data": {"values": [{}]}, "mark": {"type": "rule", "color": "black", "strokeWidth": 3.5, "strokeDash": [11, 9]}, "encoding": {"y": {"datum": 1, "type": "quantitative", "scale": {"domain": [0,6], "nice": false, "zero": true}}}},
    {"data": {"name": "boxes"}, "transform": [{"filter": "datum.panel === 'Nppa'"}],
     "encoding": {"x": {"field": "sex", "type": "nominal", "scale": {"type": "band", "domain": ["Males","Females"], "paddingInner": 0.267, "paddingOuter": 0.073}, "axis": {"title": null, "labelAngle": 0, "labelFontSize": 31, "labelFontWeight": "bold", "labelPadding": 9, "tickSize": 19, "tickWidth": 4, "domainWidth": 4, "labelLimit": 0}},
                  "xOffset": {"field": "group", "type": "nominal", "scale": {"type": "band", "domain": ["Non Gx","Gx"], "paddingInner": 0, "paddingOuter": 0}}},
     "layer": [
      {"mark": {"type": "rule", "color": "black", "strokeWidth": 3.5}, "encoding": {"y": {"field": "min", "type": "quantitative", "scale": {"domain": [0,6], "nice": false, "zero": true}, "axis": {"title": "Relative expression", "values": [0,2,4,6], "format": "d", "labelFontSize": 28, "labelFontWeight": "bold", "labelPadding": 5, "tickSize": 19, "tickWidth": 4, "domainWidth": 4, "titleFontSize": 38, "titleFontWeight": "normal", "titlePadding": 15, "grid": false}}, "y2": {"field": "max"}}},
      {"mark": {"type": "tick", "orient": "horizontal", "color": "black", "thickness": 3.5, "size": 17, "opacity": 1}, "encoding": {"y": {"field": "min", "type": "quantitative", "scale": {"domain": [0,6], "nice": false, "zero": true}}}},
      {"mark": {"type": "tick", "orient": "horizontal", "color": "black", "thickness": 3.5, "size": 17, "opacity": 1}, "encoding": {"y": {"field": "max", "type": "quantitative", "scale": {"domain": [0,6], "nice": false, "zero": true}}}},
      {"mark": {"type": "bar", "width": 33, "stroke": "black", "strokeWidth": 3.5, "opacity": 1}, "encoding": {"y": {"field": "q1", "type": "quantitative", "scale": {"domain": [0,6], "nice": false, "zero": true}}, "y2": {"field": "q3"}, "fill": {"field": "group", "type": "nominal", "scale": {"domain": ["Non Gx","Gx"], "range": ["#ffffff","#a3a3a3"]}, "legend": null}}},
      {"mark": {"type": "tick", "orient": "horizontal", "color": "black", "thickness": 3.5, "size": 33, "opacity": 1}, "encoding": {"y": {"field": "median", "type": "quantitative", "scale": {"domain": [0,6], "nice": false, "zero": true}}}},
      {"mark": {"type": "point", "shape": "circle", "filled": true, "color": "black", "size": 30, "opacity": 1}, "encoding": {"y": {"field": "mean", "type": "quantitative", "scale": {"domain": [0,6], "nice": false, "zero": true}}}}
     ]},
    {"data": {"name": "outliers"}, "transform": [{"filter": "datum.panel === 'Nppa'"}], "mark": {"type": "point", "shape": "circle", "filled": false, "stroke": "#6e6e6e", "strokeWidth": 2.5, "size": 110, "opacity": 1},
     "encoding": {"x": {"field": "sex", "type": "nominal", "scale": {"type": "band", "domain": ["Males","Females"], "paddingInner": 0.267, "paddingOuter": 0.073}}, "xOffset": {"field": "group", "type": "nominal", "scale": {"type": "band", "domain": ["Non Gx","Gx"], "paddingInner": 0, "paddingOuter": 0}}, "y": {"field": "value", "type": "quantitative", "scale": {"domain": [0,6], "nice": false, "zero": true}}}}
   ]},
   {"width": 286, "height": 111, "data": {"name": "tables"}, "transform": [{"filter": "datum.panel === 'Nppa'"}], "layer": [
    {"mark": {"type": "text", "align": "left", "baseline": "middle", "fontSize": 29, "fontWeight": "bold", "dx": -30, "color": "black"},
     "encoding": {"x": {"datum": "term", "type": "nominal", "bandPosition": 0, "scale": {"type": "band", "domain": ["term","p"], "paddingInner": 0, "paddingOuter": 0}, "axis": null},
      "y": {"field": "term", "type": "nominal", "scale": {"type": "band", "domain": ["Interaction","Sex","Gx"], "paddingInner": 0, "paddingOuter": 0}, "axis": {"orient": "left", "domain": false, "labels": false, "ticks": true, "tickSize": 83, "tickWidth": 2, "tickColor": "#d0d0d0", "grid": true, "gridColor": "#d0d0d0", "gridWidth": 2, "values": ["Sex","Gx"], "bandPosition": 0, "title": null}},
      "text": {"field": "term"}}},
    {"mark": {"type": "text", "align": "left", "baseline": "middle", "fontSize": 29, "fontWeight": "bold", "dx": 31, "color": "black"},
     "encoding": {"x": {"datum": "p", "type": "nominal", "bandPosition": 0, "scale": {"type": "band", "domain": ["term","p"], "paddingInner": 0, "paddingOuter": 0}, "axis": null},
      "y": {"field": "term", "type": "nominal", "scale": {"type": "band", "domain": ["Interaction","Sex","Gx"], "paddingInner": 0, "paddingOuter": 0}, "axis": {"orient": "left", "domain": false, "labels": false, "ticks": true, "tickSize": 83, "tickWidth": 2, "tickColor": "#d0d0d0", "grid": true, "gridColor": "#d0d0d0", "gridWidth": 2, "values": ["Sex","Gx"], "bandPosition": 0, "title": null}},
      "text": {"field": "p"}}},
    {"data": {"values": [{}]}, "mark": {"type": "rule", "color": "black", "strokeWidth": 4},
     "encoding": {"x": {"datum": "p", "type": "nominal", "bandPosition": 0, "scale": {"type": "band", "domain": ["term","p"], "paddingInner": 0, "paddingOuter": 0}, "axis": null}}}
   ]}
  ]},
  {"bounds": "flush", "spacing": 120, "vconcat": [
   {"width": 282, "height": 419, "title": {"text": "Nppb", "fontSize": 39, "fontWeight": "bold", "fontStyle": "italic", "anchor": "middle", "frame": "group", "offset": 42, "color": "black"}, "layer": [
    {"data": {"values": [{}]}, "mark": {"type": "rule", "color": "black", "strokeWidth": 3.5, "strokeDash": [11, 9]}, "encoding": {"y": {"datum": 1, "type": "quantitative", "scale": {"domain": [0,5], "nice": false, "zero": true}}}},
    {"data": {"name": "boxes"}, "transform": [{"filter": "datum.panel === 'Nppb'"}],
     "encoding": {"x": {"field": "sex", "type": "nominal", "scale": {"type": "band", "domain": ["Males","Females"], "paddingInner": 0.267, "paddingOuter": 0.073}, "axis": {"title": null, "labelAngle": 0, "labelFontSize": 31, "labelFontWeight": "bold", "labelPadding": 9, "tickSize": 19, "tickWidth": 4, "domainWidth": 4, "labelLimit": 0}},
                  "xOffset": {"field": "group", "type": "nominal", "scale": {"type": "band", "domain": ["Non Gx","Gx"], "paddingInner": 0, "paddingOuter": 0}}},
     "layer": [
      {"mark": {"type": "rule", "color": "black", "strokeWidth": 3.5}, "encoding": {"y": {"field": "min", "type": "quantitative", "scale": {"domain": [0,5], "nice": false, "zero": true}, "axis": {"title": "Relative expression", "values": [0,1,2,3,4,5], "format": "d", "labelFontSize": 28, "labelFontWeight": "bold", "labelPadding": 5, "tickSize": 19, "tickWidth": 4, "domainWidth": 4, "titleFontSize": 38, "titleFontWeight": "normal", "titlePadding": 15, "grid": false}}, "y2": {"field": "max"}}},
      {"mark": {"type": "tick", "orient": "horizontal", "color": "black", "thickness": 3.5, "size": 17, "opacity": 1}, "encoding": {"y": {"field": "min", "type": "quantitative", "scale": {"domain": [0,5], "nice": false, "zero": true}}}},
      {"mark": {"type": "tick", "orient": "horizontal", "color": "black", "thickness": 3.5, "size": 17, "opacity": 1}, "encoding": {"y": {"field": "max", "type": "quantitative", "scale": {"domain": [0,5], "nice": false, "zero": true}}}},
      {"mark": {"type": "bar", "width": 33, "stroke": "black", "strokeWidth": 3.5, "opacity": 1}, "encoding": {"y": {"field": "q1", "type": "quantitative", "scale": {"domain": [0,5], "nice": false, "zero": true}}, "y2": {"field": "q3"}, "fill": {"field": "group", "type": "nominal", "scale": {"domain": ["Non Gx","Gx"], "range": ["#ffffff","#a3a3a3"]}, "legend": null}}},
      {"mark": {"type": "tick", "orient": "horizontal", "color": "black", "thickness": 3.5, "size": 33, "opacity": 1}, "encoding": {"y": {"field": "median", "type": "quantitative", "scale": {"domain": [0,5], "nice": false, "zero": true}}}},
      {"mark": {"type": "point", "shape": "circle", "filled": true, "color": "black", "size": 30, "opacity": 1}, "encoding": {"y": {"field": "mean", "type": "quantitative", "scale": {"domain": [0,5], "nice": false, "zero": true}}}}
     ]},
    {"data": {"name": "brackets"}, "transform": [{"filter": "datum.panel === 'Nppb'"}], "mark": {"type": "line", "color": "black", "strokeWidth": 4, "strokeJoin": "miter"},
     "encoding": {"x": {"field": "sex", "type": "nominal", "scale": {"type": "band", "domain": ["Males","Females"], "paddingInner": 0.267, "paddingOuter": 0.073}}, "xOffset": {"field": "group", "type": "nominal", "scale": {"type": "band", "domain": ["Non Gx","Gx"], "paddingInner": 0, "paddingOuter": 0}}, "y": {"field": "y", "type": "quantitative", "scale": {"domain": [0,5], "nice": false, "zero": true}}, "detail": {"field": "id", "type": "nominal"}, "order": {"field": "ord", "type": "quantitative"}}},
    {"data": {"name": "stars"}, "transform": [{"filter": "datum.panel === 'Nppb' && datum.span === 'within'"}], "mark": {"type": "text", "fontSize": 52, "fontWeight": "bold", "baseline": "alphabetic", "align": "center", "dy": -10, "color": "black"},
     "encoding": {"x": {"field": "sex", "type": "nominal", "scale": {"type": "band", "domain": ["Males","Females"], "paddingInner": 0.267, "paddingOuter": 0.073}}, "y": {"field": "y", "type": "quantitative", "scale": {"domain": [0,5], "nice": false, "zero": true}}, "text": {"field": "label"}}},
    {"data": {"name": "stars"}, "transform": [{"filter": "datum.panel === 'Nppb' && datum.span === 'across'"}], "mark": {"type": "text", "fontSize": 52, "fontWeight": "bold", "baseline": "alphabetic", "align": "center", "dy": -10, "dx": 75, "color": "black"},
     "encoding": {"x": {"field": "sex", "type": "nominal", "scale": {"type": "band", "domain": ["Males","Females"], "paddingInner": 0.267, "paddingOuter": 0.073}}, "xOffset": {"field": "group", "type": "nominal", "scale": {"type": "band", "domain": ["Non Gx","Gx"], "paddingInner": 0, "paddingOuter": 0}}, "y": {"field": "y", "type": "quantitative", "scale": {"domain": [0,5], "nice": false, "zero": true}}, "text": {"field": "label"}}}
   ]},
   {"width": 288, "height": 111, "data": {"name": "tables"}, "transform": [{"filter": "datum.panel === 'Nppb'"}], "layer": [
    {"mark": {"type": "text", "align": "left", "baseline": "middle", "fontSize": 29, "fontWeight": "bold", "dx": -27, "color": "black"},
     "encoding": {"x": {"datum": "term", "type": "nominal", "bandPosition": 0, "scale": {"type": "band", "domain": ["term","p"], "paddingInner": 0, "paddingOuter": 0}, "axis": null},
      "y": {"field": "term", "type": "nominal", "scale": {"type": "band", "domain": ["Interaction","Sex","Gx"], "paddingInner": 0, "paddingOuter": 0}, "axis": {"orient": "left", "domain": false, "labels": false, "ticks": true, "tickSize": 81, "tickWidth": 2, "tickColor": "#d0d0d0", "grid": true, "gridColor": "#d0d0d0", "gridWidth": 2, "values": ["Sex","Gx"], "bandPosition": 0, "title": null}},
      "text": {"field": "term"}}},
    {"mark": {"type": "text", "align": "left", "baseline": "middle", "fontSize": 29, "fontWeight": "bold", "dx": 32, "color": "black"},
     "encoding": {"x": {"datum": "p", "type": "nominal", "bandPosition": 0, "scale": {"type": "band", "domain": ["term","p"], "paddingInner": 0, "paddingOuter": 0}, "axis": null},
      "y": {"field": "term", "type": "nominal", "scale": {"type": "band", "domain": ["Interaction","Sex","Gx"], "paddingInner": 0, "paddingOuter": 0}, "axis": {"orient": "left", "domain": false, "labels": false, "ticks": true, "tickSize": 81, "tickWidth": 2, "tickColor": "#d0d0d0", "grid": true, "gridColor": "#d0d0d0", "gridWidth": 2, "values": ["Sex","Gx"], "bandPosition": 0, "title": null}},
      "text": {"field": "p"}}},
    {"data": {"values": [{}]}, "mark": {"type": "rule", "color": "black", "strokeWidth": 4},
     "encoding": {"x": {"datum": "p", "type": "nominal", "bandPosition": 0, "scale": {"type": "band", "domain": ["term","p"], "paddingInner": 0, "paddingOuter": 0}, "axis": null}}}
   ]}
  ]}
 ]},
 {"spacing": 36, "vconcat": [
  {"spacing": 154, "hconcat": [
   {"title": {"text": "D", "anchor": "start", "frame": "bounds", "orient": "top", "fontSize": 104, "fontWeight": "bold", "baseline": "alphabetic", "offset": 0, "dx": -76, "dy": 171, "color": "black"},
    "bounds": "flush", "spacing": 120, "vconcat": [
    {"width": 282, "height": 419, "title": {"text": "Col1a", "fontSize": 39, "fontWeight": "bold", "fontStyle": "italic", "anchor": "middle", "frame": "group", "offset": 34, "color": "black"}, "layer": [
     {"data": {"values": [{}]}, "mark": {"type": "rule", "color": "black", "strokeWidth": 3.5, "strokeDash": [11, 9]}, "encoding": {"y": {"datum": 1, "type": "quantitative", "scale": {"domain": [0,15], "nice": false, "zero": true}}}},
     {"data": {"name": "boxes"}, "transform": [{"filter": "datum.panel === 'Col1a'"}],
      "encoding": {"x": {"field": "sex", "type": "nominal", "scale": {"type": "band", "domain": ["Males","Females"], "paddingInner": 0.267, "paddingOuter": 0.073}, "axis": {"title": null, "labelAngle": 0, "labelFontSize": 31, "labelFontWeight": "bold", "labelPadding": 9, "tickSize": 19, "tickWidth": 4, "domainWidth": 4, "labelLimit": 0}},
                   "xOffset": {"field": "group", "type": "nominal", "scale": {"type": "band", "domain": ["Non Gx","Gx"], "paddingInner": 0, "paddingOuter": 0}}},
      "layer": [
       {"mark": {"type": "rule", "color": "black", "strokeWidth": 3.5}, "encoding": {"y": {"field": "min", "type": "quantitative", "scale": {"domain": [0,15], "nice": false, "zero": true}, "axis": {"title": "Relative expression", "values": [0,5,10,15], "format": "d", "labelFontSize": 28, "labelFontWeight": "bold", "labelPadding": 5, "tickSize": 19, "tickWidth": 4, "domainWidth": 4, "titleFontSize": 38, "titleFontWeight": "normal", "titlePadding": 15, "grid": false}}, "y2": {"field": "max"}}},
       {"mark": {"type": "tick", "orient": "horizontal", "color": "black", "thickness": 3.5, "size": 17, "opacity": 1}, "encoding": {"y": {"field": "min", "type": "quantitative", "scale": {"domain": [0,15], "nice": false, "zero": true}}}},
       {"mark": {"type": "tick", "orient": "horizontal", "color": "black", "thickness": 3.5, "size": 17, "opacity": 1}, "encoding": {"y": {"field": "max", "type": "quantitative", "scale": {"domain": [0,15], "nice": false, "zero": true}}}},
       {"mark": {"type": "bar", "width": 33, "stroke": "black", "strokeWidth": 3.5, "opacity": 1}, "encoding": {"y": {"field": "q1", "type": "quantitative", "scale": {"domain": [0,15], "nice": false, "zero": true}}, "y2": {"field": "q3"}, "fill": {"field": "group", "type": "nominal", "scale": {"domain": ["Non Gx","Gx"], "range": ["#ffffff","#d4d4d4"]}, "legend": null}}},
       {"mark": {"type": "tick", "orient": "horizontal", "color": "black", "thickness": 3.5, "size": 33, "opacity": 1}, "encoding": {"y": {"field": "median", "type": "quantitative", "scale": {"domain": [0,15], "nice": false, "zero": true}}}},
       {"mark": {"type": "point", "shape": "circle", "filled": true, "color": "black", "size": 30, "opacity": 1}, "encoding": {"y": {"field": "mean", "type": "quantitative", "scale": {"domain": [0,15], "nice": false, "zero": true}}}}
      ]},
     {"data": {"name": "outliers"}, "transform": [{"filter": "datum.panel === 'Col1a'"}], "mark": {"type": "point", "shape": "circle", "filled": false, "stroke": "#6e6e6e", "strokeWidth": 2.5, "size": 110, "opacity": 1},
      "encoding": {"x": {"field": "sex", "type": "nominal", "scale": {"type": "band", "domain": ["Males","Females"], "paddingInner": 0.267, "paddingOuter": 0.073}}, "xOffset": {"field": "group", "type": "nominal", "scale": {"type": "band", "domain": ["Non Gx","Gx"], "paddingInner": 0, "paddingOuter": 0}}, "y": {"field": "value", "type": "quantitative", "scale": {"domain": [0,15], "nice": false, "zero": true}}}}
    ]},
    {"width": 287, "height": 111, "data": {"name": "tables"}, "transform": [{"filter": "datum.panel === 'Col1a'"}], "layer": [
     {"mark": {"type": "text", "align": "left", "baseline": "middle", "fontSize": 29, "fontWeight": "bold", "dx": -29, "color": "black"},
      "encoding": {"x": {"datum": "term", "type": "nominal", "bandPosition": 0, "scale": {"type": "band", "domain": ["term","p"], "paddingInner": 0, "paddingOuter": 0}, "axis": null},
       "y": {"field": "term", "type": "nominal", "scale": {"type": "band", "domain": ["Interaction","Sex","Gx"], "paddingInner": 0, "paddingOuter": 0}, "axis": {"orient": "left", "domain": false, "labels": false, "ticks": true, "tickSize": 82, "tickWidth": 2, "tickColor": "#d0d0d0", "grid": true, "gridColor": "#d0d0d0", "gridWidth": 2, "values": ["Sex","Gx"], "bandPosition": 0, "title": null}},
       "text": {"field": "term"}}},
     {"mark": {"type": "text", "align": "left", "baseline": "middle", "fontSize": 29, "fontWeight": "bold", "dx": 31, "color": "black"},
      "encoding": {"x": {"datum": "p", "type": "nominal", "bandPosition": 0, "scale": {"type": "band", "domain": ["term","p"], "paddingInner": 0, "paddingOuter": 0}, "axis": null},
       "y": {"field": "term", "type": "nominal", "scale": {"type": "band", "domain": ["Interaction","Sex","Gx"], "paddingInner": 0, "paddingOuter": 0}, "axis": {"orient": "left", "domain": false, "labels": false, "ticks": true, "tickSize": 82, "tickWidth": 2, "tickColor": "#d0d0d0", "grid": true, "gridColor": "#d0d0d0", "gridWidth": 2, "values": ["Sex","Gx"], "bandPosition": 0, "title": null}},
       "text": {"field": "p"}}},
     {"data": {"values": [{}]}, "mark": {"type": "rule", "color": "black", "strokeWidth": 4},
      "encoding": {"x": {"datum": "p", "type": "nominal", "bandPosition": 0, "scale": {"type": "band", "domain": ["term","p"], "paddingInner": 0, "paddingOuter": 0}, "axis": null}}}
    ]}
   ]},
   {"bounds": "flush", "spacing": 120, "vconcat": [
    {"width": 282, "height": 419, "title": {"text": "Col3a", "fontSize": 39, "fontWeight": "bold", "fontStyle": "italic", "anchor": "middle", "frame": "group", "offset": 34, "color": "black"}, "layer": [
     {"data": {"values": [{}]}, "mark": {"type": "rule", "color": "black", "strokeWidth": 3.5, "strokeDash": [11, 9]}, "encoding": {"y": {"datum": 1, "type": "quantitative", "scale": {"domain": [0,3], "nice": false, "zero": true}}}},
     {"data": {"name": "boxes"}, "transform": [{"filter": "datum.panel === 'Col3a'"}],
      "encoding": {"x": {"field": "sex", "type": "nominal", "scale": {"type": "band", "domain": ["Males","Females"], "paddingInner": 0.267, "paddingOuter": 0.073}, "axis": {"title": null, "labelAngle": 0, "labelFontSize": 31, "labelFontWeight": "bold", "labelPadding": 9, "tickSize": 19, "tickWidth": 4, "domainWidth": 4, "labelLimit": 0}},
                   "xOffset": {"field": "group", "type": "nominal", "scale": {"type": "band", "domain": ["Non Gx","Gx"], "paddingInner": 0, "paddingOuter": 0}}},
      "layer": [
       {"mark": {"type": "rule", "color": "black", "strokeWidth": 3.5}, "encoding": {"y": {"field": "min", "type": "quantitative", "scale": {"domain": [0,3], "nice": false, "zero": true}, "axis": {"title": "Relative expression", "values": [0,1,2,3], "format": "d", "labelFontSize": 28, "labelFontWeight": "bold", "labelPadding": 5, "tickSize": 19, "tickWidth": 4, "domainWidth": 4, "titleFontSize": 38, "titleFontWeight": "normal", "titlePadding": 15, "grid": false}}, "y2": {"field": "max"}}},
       {"mark": {"type": "tick", "orient": "horizontal", "color": "black", "thickness": 3.5, "size": 17, "opacity": 1}, "encoding": {"y": {"field": "min", "type": "quantitative", "scale": {"domain": [0,3], "nice": false, "zero": true}}}},
       {"mark": {"type": "tick", "orient": "horizontal", "color": "black", "thickness": 3.5, "size": 17, "opacity": 1}, "encoding": {"y": {"field": "max", "type": "quantitative", "scale": {"domain": [0,3], "nice": false, "zero": true}}}},
       {"mark": {"type": "bar", "width": 33, "stroke": "black", "strokeWidth": 3.5, "opacity": 1}, "encoding": {"y": {"field": "q1", "type": "quantitative", "scale": {"domain": [0,3], "nice": false, "zero": true}}, "y2": {"field": "q3"}, "fill": {"field": "group", "type": "nominal", "scale": {"domain": ["Non Gx","Gx"], "range": ["#ffffff","#a3a3a3"]}, "legend": null}}},
       {"mark": {"type": "tick", "orient": "horizontal", "color": "black", "thickness": 3.5, "size": 33, "opacity": 1}, "encoding": {"y": {"field": "median", "type": "quantitative", "scale": {"domain": [0,3], "nice": false, "zero": true}}}},
       {"mark": {"type": "point", "shape": "circle", "filled": true, "color": "black", "size": 30, "opacity": 1}, "encoding": {"y": {"field": "mean", "type": "quantitative", "scale": {"domain": [0,3], "nice": false, "zero": true}}}}
      ]},
     {"data": {"name": "outliers"}, "transform": [{"filter": "datum.panel === 'Col3a'"}], "mark": {"type": "point", "shape": "circle", "filled": false, "stroke": "#6e6e6e", "strokeWidth": 2.5, "size": 110, "opacity": 1},
      "encoding": {"x": {"field": "sex", "type": "nominal", "scale": {"type": "band", "domain": ["Males","Females"], "paddingInner": 0.267, "paddingOuter": 0.073}}, "xOffset": {"field": "group", "type": "nominal", "scale": {"type": "band", "domain": ["Non Gx","Gx"], "paddingInner": 0, "paddingOuter": 0}}, "y": {"field": "value", "type": "quantitative", "scale": {"domain": [0,3], "nice": false, "zero": true}}}}
    ]},
    {"width": 263, "height": 111, "data": {"name": "tables"}, "transform": [{"filter": "datum.panel === 'Col3a'"}], "layer": [
     {"mark": {"type": "text", "align": "left", "baseline": "middle", "fontSize": 29, "fontWeight": "bold", "dx": -51, "color": "black"},
      "encoding": {"x": {"datum": "term", "type": "nominal", "bandPosition": 0, "scale": {"type": "band", "domain": ["term","p"], "paddingInner": 0, "paddingOuter": 0}, "axis": null},
       "y": {"field": "term", "type": "nominal", "scale": {"type": "band", "domain": ["Interaction","Sex","Gx"], "paddingInner": 0, "paddingOuter": 0}, "axis": {"orient": "left", "domain": false, "labels": false, "ticks": true, "tickSize": 106, "tickWidth": 2, "tickColor": "#d0d0d0", "grid": true, "gridColor": "#d0d0d0", "gridWidth": 2, "values": ["Sex","Gx"], "bandPosition": 0, "title": null}},
       "text": {"field": "term"}}},
     {"mark": {"type": "text", "align": "left", "baseline": "middle", "fontSize": 29, "fontWeight": "bold", "dx": 20, "color": "black"},
      "encoding": {"x": {"datum": "p", "type": "nominal", "bandPosition": 0, "scale": {"type": "band", "domain": ["term","p"], "paddingInner": 0, "paddingOuter": 0}, "axis": null},
       "y": {"field": "term", "type": "nominal", "scale": {"type": "band", "domain": ["Interaction","Sex","Gx"], "paddingInner": 0, "paddingOuter": 0}, "axis": {"orient": "left", "domain": false, "labels": false, "ticks": true, "tickSize": 106, "tickWidth": 2, "tickColor": "#d0d0d0", "grid": true, "gridColor": "#d0d0d0", "gridWidth": 2, "values": ["Sex","Gx"], "bandPosition": 0, "title": null}},
       "text": {"field": "p"}}},
     {"data": {"values": [{}]}, "mark": {"type": "rule", "color": "black", "strokeWidth": 4},
      "encoding": {"x": {"datum": "p", "type": "nominal", "bandPosition": 0, "scale": {"type": "band", "domain": ["term","p"], "paddingInner": 0, "paddingOuter": 0}, "axis": null}}}
    ]}
   ]}
  ]},
  {"spacing": 153, "hconcat": [
   {"bounds": "flush", "spacing": 120, "vconcat": [
    {"width": 282, "height": 419, "title": {"text": "Postn", "fontSize": 39, "fontWeight": "bold", "fontStyle": "italic", "anchor": "middle", "frame": "group", "offset": 34, "color": "black"}, "layer": [
     {"data": {"values": [{}]}, "mark": {"type": "rule", "color": "black", "strokeWidth": 3.5, "strokeDash": [11, 9]}, "encoding": {"y": {"datum": 1, "type": "quantitative", "scale": {"domain": [0,15], "nice": false, "zero": true}}}},
     {"data": {"name": "boxes"}, "transform": [{"filter": "datum.panel === 'Postn'"}],
      "encoding": {"x": {"field": "sex", "type": "nominal", "scale": {"type": "band", "domain": ["Males","Females"], "paddingInner": 0.267, "paddingOuter": 0.073}, "axis": {"title": null, "labelAngle": 0, "labelFontSize": 31, "labelFontWeight": "bold", "labelPadding": 9, "tickSize": 19, "tickWidth": 4, "domainWidth": 4, "labelLimit": 0}},
                   "xOffset": {"field": "group", "type": "nominal", "scale": {"type": "band", "domain": ["Non Gx","Gx"], "paddingInner": 0, "paddingOuter": 0}}},
      "layer": [
       {"mark": {"type": "rule", "color": "black", "strokeWidth": 3.5}, "encoding": {"y": {"field": "min", "type": "quantitative", "scale": {"domain": [0,15], "nice": false, "zero": true}, "axis": {"title": "Relative expression", "values": [0,5,10,15], "format": "d", "labelFontSize": 28, "labelFontWeight": "bold", "labelPadding": 5, "tickSize": 19, "tickWidth": 4, "domainWidth": 4, "titleFontSize": 38, "titleFontWeight": "normal", "titlePadding": 15, "grid": false}}, "y2": {"field": "max"}}},
       {"mark": {"type": "tick", "orient": "horizontal", "color": "black", "thickness": 3.5, "size": 17, "opacity": 1}, "encoding": {"y": {"field": "min", "type": "quantitative", "scale": {"domain": [0,15], "nice": false, "zero": true}}}},
       {"mark": {"type": "tick", "orient": "horizontal", "color": "black", "thickness": 3.5, "size": 17, "opacity": 1}, "encoding": {"y": {"field": "max", "type": "quantitative", "scale": {"domain": [0,15], "nice": false, "zero": true}}}},
       {"mark": {"type": "bar", "width": 33, "stroke": "black", "strokeWidth": 3.5, "opacity": 1}, "encoding": {"y": {"field": "q1", "type": "quantitative", "scale": {"domain": [0,15], "nice": false, "zero": true}}, "y2": {"field": "q3"}, "fill": {"field": "group", "type": "nominal", "scale": {"domain": ["Non Gx","Gx"], "range": ["#ffffff","#a3a3a3"]}, "legend": null}}},
       {"mark": {"type": "tick", "orient": "horizontal", "color": "black", "thickness": 3.5, "size": 33, "opacity": 1}, "encoding": {"y": {"field": "median", "type": "quantitative", "scale": {"domain": [0,15], "nice": false, "zero": true}}}},
       {"mark": {"type": "point", "shape": "circle", "filled": true, "color": "black", "size": 30, "opacity": 1}, "encoding": {"y": {"field": "mean", "type": "quantitative", "scale": {"domain": [0,15], "nice": false, "zero": true}}}}
      ]}
    ]},
    {"width": 264, "height": 111, "data": {"name": "tables"}, "transform": [{"filter": "datum.panel === 'Postn'"}], "layer": [
     {"mark": {"type": "text", "align": "left", "baseline": "middle", "fontSize": 29, "fontWeight": "bold", "dx": -53, "color": "black"},
      "encoding": {"x": {"datum": "term", "type": "nominal", "bandPosition": 0, "scale": {"type": "band", "domain": ["term","p"], "paddingInner": 0, "paddingOuter": 0}, "axis": null},
       "y": {"field": "term", "type": "nominal", "scale": {"type": "band", "domain": ["Interaction","Sex","Gx"], "paddingInner": 0, "paddingOuter": 0}, "axis": {"orient": "left", "domain": false, "labels": false, "ticks": true, "tickSize": 107, "tickWidth": 2, "tickColor": "#d0d0d0", "grid": true, "gridColor": "#d0d0d0", "gridWidth": 2, "values": ["Sex","Gx"], "bandPosition": 0, "title": null}},
       "text": {"field": "term"}}},
     {"mark": {"type": "text", "align": "left", "baseline": "middle", "fontSize": 29, "fontWeight": "bold", "dx": 18, "color": "black"},
      "encoding": {"x": {"datum": "p", "type": "nominal", "bandPosition": 0, "scale": {"type": "band", "domain": ["term","p"], "paddingInner": 0, "paddingOuter": 0}, "axis": null},
       "y": {"field": "term", "type": "nominal", "scale": {"type": "band", "domain": ["Interaction","Sex","Gx"], "paddingInner": 0, "paddingOuter": 0}, "axis": {"orient": "left", "domain": false, "labels": false, "ticks": true, "tickSize": 107, "tickWidth": 2, "tickColor": "#d0d0d0", "grid": true, "gridColor": "#d0d0d0", "gridWidth": 2, "values": ["Sex","Gx"], "bandPosition": 0, "title": null}},
       "text": {"field": "p"}}},
     {"data": {"values": [{}]}, "mark": {"type": "rule", "color": "black", "strokeWidth": 4},
      "encoding": {"x": {"datum": "p", "type": "nominal", "bandPosition": 0, "scale": {"type": "band", "domain": ["term","p"], "paddingInner": 0, "paddingOuter": 0}, "axis": null}}}
    ]}
   ]},
   {"bounds": "flush", "spacing": 120, "vconcat": [
    {"width": 282, "height": 419, "title": {"text": "Thbs4", "fontSize": 39, "fontWeight": "bold", "fontStyle": "italic", "anchor": "middle", "frame": "group", "offset": 40, "color": "black"}, "layer": [
     {"data": {"values": [{}]}, "mark": {"type": "rule", "color": "black", "strokeWidth": 3.5, "strokeDash": [11, 9]}, "encoding": {"y": {"datum": 1, "type": "quantitative", "scale": {"domain": [0,25], "nice": false, "zero": true}}}},
     {"data": {"name": "boxes"}, "transform": [{"filter": "datum.panel === 'Thbs4'"}],
      "encoding": {"x": {"field": "sex", "type": "nominal", "scale": {"type": "band", "domain": ["Males","Females"], "paddingInner": 0.267, "paddingOuter": 0.073}, "axis": {"title": null, "labelAngle": 0, "labelFontSize": 31, "labelFontWeight": "bold", "labelPadding": 9, "tickSize": 19, "tickWidth": 4, "domainWidth": 4, "labelLimit": 0}},
                   "xOffset": {"field": "group", "type": "nominal", "scale": {"type": "band", "domain": ["Non Gx","Gx"], "paddingInner": 0, "paddingOuter": 0}}},
      "layer": [
       {"mark": {"type": "rule", "color": "black", "strokeWidth": 3.5}, "encoding": {"y": {"field": "min", "type": "quantitative", "scale": {"domain": [0,25], "nice": false, "zero": true}, "axis": {"title": "Relative expression", "values": [0,5,10,15,20,25], "format": "d", "labelFontSize": 28, "labelFontWeight": "bold", "labelPadding": 5, "tickSize": 19, "tickWidth": 4, "domainWidth": 4, "titleFontSize": 38, "titleFontWeight": "normal", "titlePadding": 15, "grid": false}}, "y2": {"field": "max"}}},
       {"mark": {"type": "tick", "orient": "horizontal", "color": "black", "thickness": 3.5, "size": 17, "opacity": 1}, "encoding": {"y": {"field": "min", "type": "quantitative", "scale": {"domain": [0,25], "nice": false, "zero": true}}}},
       {"mark": {"type": "tick", "orient": "horizontal", "color": "black", "thickness": 3.5, "size": 17, "opacity": 1}, "encoding": {"y": {"field": "max", "type": "quantitative", "scale": {"domain": [0,25], "nice": false, "zero": true}}}},
       {"mark": {"type": "bar", "width": 33, "stroke": "black", "strokeWidth": 3.5, "opacity": 1}, "encoding": {"y": {"field": "q1", "type": "quantitative", "scale": {"domain": [0,25], "nice": false, "zero": true}}, "y2": {"field": "q3"}, "fill": {"field": "group", "type": "nominal", "scale": {"domain": ["Non Gx","Gx"], "range": ["#ffffff","#a3a3a3"]}, "legend": null}}},
       {"mark": {"type": "tick", "orient": "horizontal", "color": "black", "thickness": 3.5, "size": 33, "opacity": 1}, "encoding": {"y": {"field": "median", "type": "quantitative", "scale": {"domain": [0,25], "nice": false, "zero": true}}}},
       {"mark": {"type": "point", "shape": "circle", "filled": true, "color": "black", "size": 30, "opacity": 1}, "encoding": {"y": {"field": "mean", "type": "quantitative", "scale": {"domain": [0,25], "nice": false, "zero": true}}}}
      ]},
     {"data": {"name": "outliers"}, "transform": [{"filter": "datum.panel === 'Thbs4'"}], "mark": {"type": "point", "shape": "circle", "filled": true, "color": "black", "size": 170, "opacity": 1},
      "encoding": {"x": {"field": "sex", "type": "nominal", "scale": {"type": "band", "domain": ["Males","Females"], "paddingInner": 0.267, "paddingOuter": 0.073}}, "xOffset": {"field": "group", "type": "nominal", "scale": {"type": "band", "domain": ["Non Gx","Gx"], "paddingInner": 0, "paddingOuter": 0}}, "y": {"field": "value", "type": "quantitative", "scale": {"domain": [0,25], "nice": false, "zero": true}}}},
     {"data": {"name": "brackets"}, "transform": [{"filter": "datum.panel === 'Thbs4'"}], "mark": {"type": "line", "color": "black", "strokeWidth": 4, "strokeJoin": "miter"},
      "encoding": {"x": {"field": "sex", "type": "nominal", "scale": {"type": "band", "domain": ["Males","Females"], "paddingInner": 0.267, "paddingOuter": 0.073}}, "xOffset": {"field": "group", "type": "nominal", "scale": {"type": "band", "domain": ["Non Gx","Gx"], "paddingInner": 0, "paddingOuter": 0}}, "y": {"field": "y", "type": "quantitative", "scale": {"domain": [0,25], "nice": false, "zero": true}}, "detail": {"field": "id", "type": "nominal"}, "order": {"field": "ord", "type": "quantitative"}}},
     {"data": {"name": "stars"}, "transform": [{"filter": "datum.panel === 'Thbs4' && datum.span === 'within'"}], "mark": {"type": "text", "fontSize": 52, "fontWeight": "bold", "baseline": "alphabetic", "align": "center", "dy": -4, "color": "black"},
      "encoding": {"x": {"field": "sex", "type": "nominal", "scale": {"type": "band", "domain": ["Males","Females"], "paddingInner": 0.267, "paddingOuter": 0.073}}, "y": {"field": "y", "type": "quantitative", "scale": {"domain": [0,25], "nice": false, "zero": true}}, "text": {"field": "label"}}},
     {"data": {"name": "stars"}, "transform": [{"filter": "datum.panel === 'Thbs4' && datum.span === 'across'"}], "mark": {"type": "text", "fontSize": 52, "fontWeight": "bold", "baseline": "alphabetic", "align": "center", "dy": -4, "dx": 75, "color": "black"},
      "encoding": {"x": {"field": "sex", "type": "nominal", "scale": {"type": "band", "domain": ["Males","Females"], "paddingInner": 0.267, "paddingOuter": 0.073}}, "xOffset": {"field": "group", "type": "nominal", "scale": {"type": "band", "domain": ["Non Gx","Gx"], "paddingInner": 0, "paddingOuter": 0}}, "y": {"field": "y", "type": "quantitative", "scale": {"domain": [0,25], "nice": false, "zero": true}}, "text": {"field": "label"}}}
    ]},
    {"width": 287, "height": 111, "data": {"name": "tables"}, "transform": [{"filter": "datum.panel === 'Thbs4'"}], "layer": [
     {"mark": {"type": "text", "align": "left", "baseline": "middle", "fontSize": 29, "fontWeight": "bold", "dx": -45, "color": "black"},
      "encoding": {"x": {"datum": "term", "type": "nominal", "bandPosition": 0, "scale": {"type": "band", "domain": ["term","p"], "paddingInner": 0, "paddingOuter": 0}, "axis": null},
       "y": {"field": "term", "type": "nominal", "scale": {"type": "band", "domain": ["Interaction","Sex","Gx"], "paddingInner": 0, "paddingOuter": 0}, "axis": {"orient": "left", "domain": false, "labels": false, "ticks": true, "tickSize": 98, "tickWidth": 2, "tickColor": "#d0d0d0", "grid": true, "gridColor": "#d0d0d0", "gridWidth": 2, "values": ["Sex","Gx"], "bandPosition": 0, "title": null}},
       "text": {"field": "term"}}},
     {"mark": {"type": "text", "align": "left", "baseline": "middle", "fontSize": 29, "fontWeight": "bold", "dx": 15, "color": "black"},
      "encoding": {"x": {"datum": "p", "type": "nominal", "bandPosition": 0, "scale": {"type": "band", "domain": ["term","p"], "paddingInner": 0, "paddingOuter": 0}, "axis": null},
       "y": {"field": "term", "type": "nominal", "scale": {"type": "band", "domain": ["Interaction","Sex","Gx"], "paddingInner": 0, "paddingOuter": 0}, "axis": {"orient": "left", "domain": false, "labels": false, "ticks": true, "tickSize": 98, "tickWidth": 2, "tickColor": "#d0d0d0", "grid": true, "gridColor": "#d0d0d0", "gridWidth": 2, "values": ["Sex","Gx"], "bandPosition": 0, "title": null}},
       "text": {"field": "p"}}},
     {"data": {"values": [{}]}, "mark": {"type": "rule", "color": "black", "strokeWidth": 4},
      "encoding": {"x": {"datum": "p", "type": "nominal", "bandPosition": 0, "scale": {"type": "band", "domain": ["term","p"], "paddingInner": 0, "paddingOuter": 0}, "axis": null}}}
    ]}
   ]}
  ]}
 ]}
]}
]
}
